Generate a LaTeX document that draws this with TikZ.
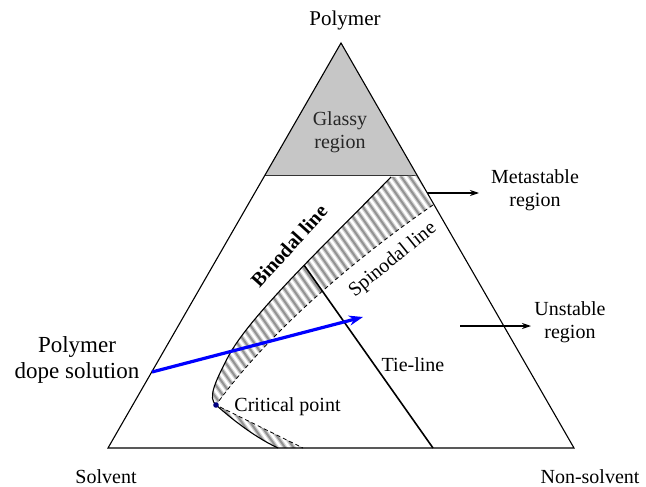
\documentclass[tikz,border=0pt]{standalone}
\usepackage{fontspec}
\setmainfont{Liberation Serif}
\usetikzlibrary{arrows.meta}
\begin{document}
\begin{tikzpicture}[x=1pt,y=-1pt,
  lbl/.style={font=\fontsize{20}{23}\selectfont, align=center, inner sep=0pt},
  biglbl/.style={font=\fontsize{23}{26}\selectfont, align=center, inner sep=0pt},
  edge/.style={line width=1.1pt, black},
  hatchsoft/.style={line width=4.4pt, gray!35},
  hatchcore/.style={line width=2pt, gray!85},
  pointer/.style={line width=1.1pt, -{Stealth[length=9pt,width=6pt]}},
  dopearrow/.style={line width=3.2pt, blue, -{Stealth[length=14pt,width=10pt]}},
  glassy/.style={fill=gray!45}]
\useasboundingbox (0,0) rectangle (646,487);
% corners
\coordinate (S) at (108,448);
\coordinate (N) at (574,448);
\coordinate (P) at (341,43);
\coordinate (GL) at (265,175.5);
\coordinate (GR) at (417,175.5);
\coordinate (B0) at (391,177);
\coordinate (S0) at (433,205);
\coordinate (C) at (216,405);
\coordinate (B1) at (278,448);
\coordinate (S1) at (303,448);
% glassy region
\fill[glassy] (P) -- (GL) -- (GR) -- cycle;
\draw[line width=1pt, gray!40!black] (GL) -- (GR);
% hatched metastable region
\begin{scope}
\clip (B0) -- (GR) -- (S0) .. controls (360,255) and (270,330) .. (C)
  .. controls (208,398) and (214,384) .. (228,357)
  .. controls (250,315) and (330,240) .. (B0) -- cycle
  (C) .. controls (224,412) and (250,435) .. (B1) -- (S1) -- (C) -- cycle;
\foreach \x in {0,8.5,...,420}{
  \draw[hatchsoft] (\x,150) -- ++(229.6,327.6);
  \draw[hatchcore] (\x,150) -- ++(229.6,327.6);
}
\end{scope}
% triangle
\draw[edge, line join=miter] (S) -- (P) -- (N) -- cycle;
% binodal
\draw[line width=1.1pt] (B0) .. controls (330,240) and (250,315) .. (228,357) coordinate[pos=0.45] (T0)
  .. controls (214,384) and (208,398) .. (C)
  .. controls (224,412) and (250,435) .. (B1);
% spinodal
\draw[line width=0.8pt, dashed, dash pattern=on 4pt off 3pt] (S0) .. controls (360,255) and (270,330) .. (C) -- (S1);
% tie-line
\coordinate (T1) at (433,448);
\draw[line width=1.6pt] (T0) -- (T1);
% critical point
\fill[blue!50!black] (C) circle (2.8pt);
% dope arrow
\coordinate (D0) at (152,372);
\coordinate (D1) at (363,317);
\draw[dopearrow] (D0) -- (D1);
% labels
\node[lbl, font=\fontsize{21}{24}\selectfont] (poly) at (345,20) {Polymer};
\node[lbl] (solv) at (106,477) {Solvent};
\node[lbl] (nons) at (590,477) {Non-solvent};
\node[lbl, text=black!85] (glass) at (340,132) {Glassy\\region};
\node[lbl, font=\fontsize{20}{23}\selectfont\bfseries, rotate=48] (bino) at (289,246) {Binodal line};
\node[lbl, rotate=39] (spino) at (393,260) {Spinodal line};
\node[lbl] (tie) at (413,365) {Tie-line};
\node[lbl] (crit) at (287.5,407) {Critical point};
\node[biglbl] (dope) at (77,360) {Polymer\\dope solution};
\node[lbl] (meta) at (535,190) {Metastable\\region};
\node[lbl] (unst) at (570,322) {Unstable\\region};
% pointer arrows
\coordinate (M0) at (427,193);
\coordinate (M1) at (479,193);
\draw[pointer] (M0) -- (M1);
\coordinate (U0) at (460,326);
\coordinate (U1) at (531,326);
\draw[pointer] (U0) -- (U1);
\end{tikzpicture}
\end{document}
